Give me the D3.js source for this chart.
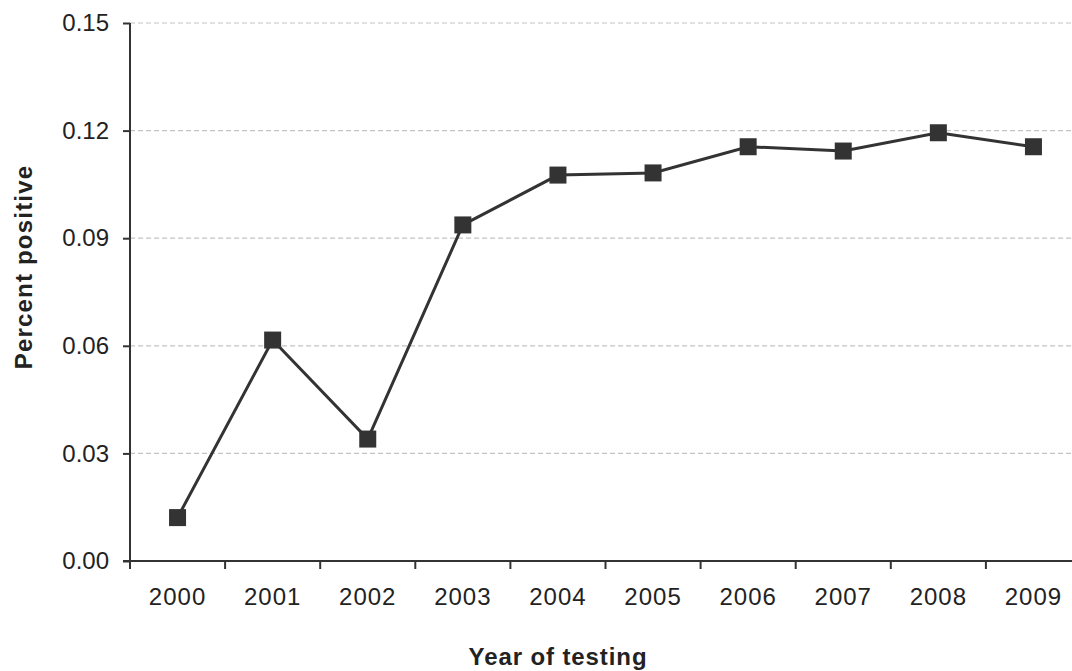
<!DOCTYPE html>
<html>
<head>
<meta charset="utf-8">
<script src="https://cdn.jsdelivr.net/npm/d3@7"></script>
<style>
  body { margin: 0; background: #fff; }
  text { font-family: "Liberation Sans", Arial, sans-serif; fill: #222; }
</style>
</head>
<body>
<div id="chart"></div>
<script>
// data
const years = ["2000","2001","2002","2003","2004","2005","2006","2007","2008","2009"];
const percentPositive = [0.0121, 0.0616, 0.0340, 0.0937, 0.1076, 0.1082, 0.1155, 0.1143, 0.1194, 0.1155];
const yTickValues = [0, 0.03, 0.06, 0.09, 0.12, 0.15];

const width = 1072,
  height = 671,
  leftMargin = 130,
  topMargin = 23,
  bottomY = 561,
  rightEdge = 1081;

const svg = d3.select('#chart')
  .append('svg')
  .attr('width', width)
  .attr('height', height);

const scaleX = d3.scaleBand()
  .domain(years)
  .range([leftMargin, rightEdge]);

const scaleY = d3.scaleLinear()
  .domain([0, 0.15])
  .range([bottomY, topMargin]);

// gridlines
svg.append('g')
  .selectAll('line')
  .data(yTickValues.filter(d => d > 0))
  .enter().append('line')
    .attr('x1', leftMargin)
    .attr('x2', width)
    .attr('y1', d => scaleY(d))
    .attr('y2', d => scaleY(d))
    .attr('stroke', '#c4c4c4')
    .attr('stroke-width', 1.2)
    .attr('stroke-dasharray', '5,3');

// y axis
const yAxis = d3.axisLeft(scaleY)
  .tickValues(yTickValues)
  .tickFormat(d3.format('.2f'))
  .tickSize(7)
  .tickSizeOuter(0)
  .tickPadding(14);

const gy = svg.append('g')
  .attr('transform', `translate(${leftMargin},0)`)
  .call(yAxis);
gy.select('.domain').remove();
gy.append('line')
  .attr('x1', 0).attr('x2', 0)
  .attr('y1', topMargin).attr('y2', bottomY + 7)
  .attr('stroke', '#333').attr('stroke-width', 2);

// x axis
const xTickPos = years.map(y => scaleX(y));
const gx = svg.append('g')
  .attr('transform', `translate(0,${bottomY})`);
gx.append('line')
  .attr('x1', leftMargin - 7).attr('x2', width)
  .attr('y1', 0).attr('y2', 0)
  .attr('stroke', '#333').attr('stroke-width', 2);
gx.selectAll('line.tick')
  .data(xTickPos)
  .enter().append('line')
    .attr('class', 'tick')
    .attr('x1', d => d).attr('x2', d => d)
    .attr('y1', 0).attr('y2', 8)
    .attr('stroke', '#333').attr('stroke-width', 2);
gx.selectAll('text')
  .data(years)
  .enter().append('text')
    .attr('x', d => scaleX(d) + scaleX.bandwidth() / 2)
    .attr('y', 44)
    .attr('text-anchor', 'middle')
    .style('font-size', '24px')
    .style('letter-spacing', '1px')
    .text(d => d);

gy.selectAll('.tick line').attr('stroke', '#333').attr('stroke-width', 2);
gy.selectAll('.tick text')
  .style('font-size', '24px')
  .style('fill', '#222');

// line
svg.append('path')
  .datum(percentPositive)
  .attr('fill', 'none')
  .attr('stroke', '#333')
  .attr('stroke-width', 3)
  .attr('d', d3.line()
    .x((d, i) => scaleX(years[i]) + scaleX.bandwidth() / 2)
    .y(d => scaleY(d)));

// markers
const ms = 17;
svg.selectAll('rect.marker')
  .data(percentPositive)
  .enter().append('rect')
    .attr('class', 'marker')
    .attr('x', (d, i) => scaleX(years[i]) + scaleX.bandwidth() / 2 - ms / 2)
    .attr('y', d => scaleY(d) - ms / 2)
    .attr('width', ms)
    .attr('height', ms)
    .attr('fill', '#333');

// axis titles
svg.append('text')
  .attr('x', 558)
  .attr('y', 665)
  .attr('text-anchor', 'middle')
  .style('font-size', '24px')
  .style('font-weight', 'bold')
  .style('letter-spacing', '0.9px')
  .text('Year of testing');

svg.append('text')
  .attr('transform', 'translate(32,267) rotate(-90)')
  .attr('text-anchor', 'middle')
  .style('font-size', '24px')
  .style('font-weight', 'bold')
  .style('letter-spacing', '1.2px')
  .text('Percent positive');
</script>
</body>
</html>
